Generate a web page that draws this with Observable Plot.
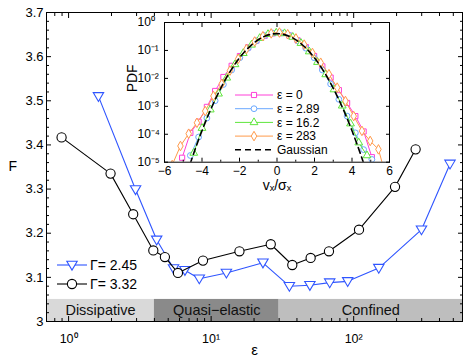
<!DOCTYPE html>
<html><head><meta charset="utf-8">
<script src="https://cdn.jsdelivr.net/npm/d3@7"></script>
<script src="https://cdn.jsdelivr.net/npm/@observablehq/plot@0.6"></script>
<style>
body{margin:0;background:#fff;}
#wrap{position:relative;width:469px;height:363px;font-family:"Liberation Sans",Arial,sans-serif;}
#wrap svg{position:absolute;overflow:visible;}
</style></head><body><div id="wrap"></div>
<script>
// ---------- main chart data ----------
const eps245 = [1.62, 2.95, 4.15, 5.45, 6.55, 8.26, 12.8, 23.1, 35.4, 49.3, 67.9, 90.8, 150, 299, 474];
const F245   = [3.510, 3.299, 3.185, 3.120, 3.116, 3.097, 3.110, 3.133, 3.080, 3.082, 3.088, 3.091, 3.121, 3.208, 3.357];
const eps332 = [0.893, 1.97, 2.84, 3.93, 4.74, 5.85, 8.77, 15.8, 26.2, 37.1, 49.9, 67.1, 109, 195, 272];
const F332   = [3.417, 3.335, 3.243, 3.161, 3.146, 3.110, 3.138, 3.159, 3.175, 3.128, 3.144, 3.159, 3.208, 3.305, 3.390];
const seriesNames = ["Γ= 2.45", "Γ= 3.32"];
const regimeNames = ["Dissipative", "Quasi\u2212elastic", "Confined"];
const regimeLo = [0.7, 4, 30];
const regimeHi = [4, 30, 580];
const regimeFill = ["#d9d9d9", "#8a8a8a", "#bebebe"];
const bandTop = 3.05;
const xTicksMain = [1, 10, 100];
const xTickLabelsMain = ["10\u2070", "10\u00b9", "10\u00b2"];
const xMinorMain = [0.8, 0.9, 2, 3, 4, 5, 6, 7, 8, 9, 20, 30, 40, 50, 60, 70, 80, 90, 200, 300, 400, 500];
const yTicksMain = [3, 3.1, 3.2, 3.3, 3.4, 3.5, 3.6, 3.7];
const yTickLabelsMain = ["3", "3.1", "3.2", "3.3", "3.4", "3.5", "3.6", "3.7"];

// ---------- inset data (PDF, log10 values) ----------
const insetNames = ["\u03b5 = 0", "\u03b5 = 2.89", "\u03b5 = 16.2", "\u03b5 = 283", "Gaussian"];
const vx_e0 = [-5.06,-4.62,-4.18,-3.74,-3.30,-2.86,-2.42,-1.98,-1.54,-1.10,-0.66,-0.22,0.22,0.66,1.10,1.54,1.98,2.42,2.86,3.30,3.74,4.18,4.62,5.06];
const lp_e0 = [-4.84,-3.95,-3.55,-3.02,-2.45,-1.95,-1.55,-1.20,-0.89,-0.65,-0.48,-0.39,-0.38,-0.47,-0.64,-0.88,-1.20,-1.57,-1.97,-2.42,-2.88,-3.35,-3.90,-4.82];
const vx_e289 = [-4.62,-4.18,-3.74,-3.30,-2.86,-2.42,-1.98,-1.54,-1.10,-0.66,-0.22,0.22,0.66,1.10,1.54,1.98,2.42,2.86,3.30,3.74,4.18,4.62,5.06];
const lp_e289 = [-4.76,-4.10,-3.42,-2.80,-2.22,-1.70,-1.26,-0.92,-0.66,-0.47,-0.38,-0.37,-0.46,-0.65,-0.92,-1.26,-1.70,-2.20,-2.75,-3.35,-3.95,-4.55,-4.90];
const vx_e162 = [-4.44,-4.00,-3.56,-3.12,-2.68,-2.24,-1.80,-1.36,-0.92,-0.48,-0.04,0.40,0.84,1.28,1.72,2.16,2.60,3.04,3.48,3.92,4.36,4.80];
const lp_e162 = [-4.67,-3.78,-3.12,-2.55,-1.98,-1.50,-1.10,-0.80,-0.56,-0.42,-0.37,-0.39,-0.52,-0.74,-1.04,-1.42,-1.86,-2.40,-2.98,-3.62,-4.30,-4.76];
const vx_e283 = [-5.59,-5.15,-4.71,-4.27,-3.83,-3.39,-2.95,-2.51,-2.07,-1.63,-1.19,-0.75,-0.31,0.13,0.57,1.01,1.45,1.89,2.33,2.77,3.21,3.65,4.09,4.53,4.97,5.41,5.85];
const lp_e283 = [-5.10,-4.42,-3.98,-3.59,-3.17,-2.63,-2.20,-1.72,-1.30,-0.95,-0.68,-0.49,-0.39,-0.36,-0.42,-0.57,-0.79,-1.09,-1.44,-1.85,-2.33,-2.81,-3.35,-3.88,-4.24,-4.54,-5.60];
const vx_gauss = [-4.8,-4.4,-4.0,-3.6,-3.2,-2.8,-2.4,-2.0,-1.6,-1.2,-0.8,-0.4,0,0.4,0.8,1.2,1.6,2.0,2.4,2.8,3.2,3.6,4.0,4.4,4.8];
const p_gauss = [3.961e-6,2.494e-5,1.338e-4,6.119e-4,2.384e-3,7.915e-3,0.02239,0.05399,0.1109,0.1942,0.2897,0.3683,0.3989,0.3683,0.2897,0.1942,0.1109,0.05399,0.02239,7.915e-3,2.384e-3,6.119e-4,1.338e-4,2.494e-5,3.961e-6];
const insetColors = ["#ff40d8", "#6aa8ff", "#5ee63c", "#ff9a4a", "#000000"];
const insetSymbols = ["square", "circle", "triangle", "diamond"];
const xTicksInset = [-6, -4, -2, 0, 2, 4, 6];
const xTickLabelsInset = ["\u22126", "\u22124", "\u22122", "0", "2", "4", "6"];
const xMinorInset = [-5, -3, -1, 1, 3, 5];
const yTicksInset = [1e-5, 1e-4, 1e-3, 1e-2, 1e-1, 1];
const yTickLabelsInset = ["10\u207b\u2075", "10\u207b\u2074", "10\u207b\u00b3", "10\u207b\u00b2", "10\u207b\u00b9", "10\u2070"];

const blue = "#2f55ff";
const FONT = "'Liberation Sans', Arial, sans-serif";

const triDown = {draw(ctx, size) {
  const r = Math.sqrt(size / Math.PI);
  ctx.moveTo(-r, -0.72 * r); ctx.lineTo(r, -0.72 * r); ctx.lineTo(0, 0.98 * r); ctx.closePath();
}};

const d245 = eps245.map((e, i) => ({e, F: F245[i]}));
const d332 = eps332.map((e, i) => ({e, F: F332[i]}));
const regimes = regimeNames.map((name, i) => ({name, lo: regimeLo[i], hi: regimeHi[i], fill: regimeFill[i]}));
const yMinorMain = d3.range(3.02, 3.7, 0.02).filter(v => Math.abs(v * 10 - Math.round(v * 10)) > 1e-6);

const wrap = document.getElementById("wrap");
const blank = () => "";

const main = Plot.plot({
  width: 469, height: 363,
  marginLeft: 46, marginRight: 7, marginTop: 12, marginBottom: 42,
  style: {fontFamily: FONT, fontSize: "12px", background: "transparent", color: "black"},
  x: {type: "log", domain: [0.7, 580], axis: null},
  y: {domain: [3, 3.7], axis: null},
  marks: [
    Plot.rect(regimes, {x1: "lo", x2: "hi", y1: 3, y2: bandTop, fill: "fill"}),
    Plot.text(regimes, {x: d => Math.sqrt(d.lo * d.hi), y: (3 + bandTop) / 2, text: "name", fontSize: 14.5, fill: "#111"}),
    Plot.line(d245, {x: "e", y: "F", stroke: blue, strokeWidth: 1.1}),
    Plot.dot(d245, {x: "e", y: "F", symbol: triDown, r: 5.2, stroke: blue, fill: "white", strokeWidth: 1.1}),
    Plot.line(d332, {x: "e", y: "F", stroke: "black", strokeWidth: 1.1}),
    Plot.dot(d332, {x: "e", y: "F", r: 4.6, stroke: "black", fill: "white", strokeWidth: 1.1}),
    Plot.frame({stroke: "black", strokeWidth: 1}),
    Plot.text(xTicksMain, {x: d => d, text: (d, i) => xTickLabelsMain[i], frameAnchor: "bottom", lineAnchor: "middle", dy: 17, fontSize: 12.5}),
    Plot.axisX({ticks: xTicksMain, tickSize: -5, tickFormat: blank, label: null}),
    Plot.axisX({ticks: xMinorMain, tickSize: -3, tickFormat: blank, label: null}),
    Plot.axisX({anchor: "top", ticks: xTicksMain, tickSize: -5, tickFormat: blank, label: null}),
    Plot.axisX({anchor: "top", ticks: xMinorMain, tickSize: -3, tickFormat: blank, label: null}),
    Plot.text(yTicksMain, {y: d => d, text: (d, i) => yTickLabelsMain[i], frameAnchor: "left", dx: -3, textAnchor: "end", fontSize: 13}),
    Plot.axisY({ticks: yTicksMain, tickSize: -5, tickFormat: blank, label: null}),
    Plot.axisY({ticks: yMinorMain, tickSize: -3, tickFormat: blank, label: null}),
    Plot.axisY({anchor: "right", ticks: yTicksMain, tickSize: -5, tickFormat: blank, label: null}),
    Plot.axisY({anchor: "right", ticks: yMinorMain, tickSize: -3, tickFormat: blank, label: null}),
    Plot.text(["F"], {frameAnchor: "left", dx: -38, fontSize: 14}),
    Plot.text(["\u03b5"], {frameAnchor: "bottom", lineAnchor: "middle", dy: 29, fontSize: 15})
  ]
});
main.style.left = "0px"; main.style.top = "0px";
wrap.appendChild(main);

// ---------- inset ----------
const mk = (xs, ls) => xs.map((x, i) => ({x, p: Math.pow(10, ls[i])}));
const insetSeries = [mk(vx_e0, lp_e0), mk(vx_e289, lp_e289), mk(vx_e162, lp_e162), mk(vx_e283, lp_e283)];
const gauss = vx_gauss.map((x, i) => ({x, p: p_gauss[i]}));

const insetMarks = [Plot.frame({fill: "white", stroke: "none"})];
insetSeries.forEach((s, k) => {
  insetMarks.push(Plot.line(s, {x: "x", y: "p", stroke: insetColors[k], strokeWidth: 1, clip: true}));
  insetMarks.push(Plot.dot(s, {x: "x", y: "p", symbol: insetSymbols[k], r: 2.9, stroke: insetColors[k], fill: "white", strokeWidth: 1, clip: true}));
});
insetMarks.push(Plot.line(gauss, {x: "x", y: "p", stroke: "black", strokeWidth: 1.6, strokeDasharray: "6,4", curve: "catmull-rom", clip: true}));
insetMarks.push(
  Plot.frame({stroke: "black", strokeWidth: 1}),
  Plot.text(xTicksInset, {x: d => d, text: (d, i) => xTickLabelsInset[i], frameAnchor: "bottom", lineAnchor: "middle", dy: 9, fontSize: 12}),
  Plot.axisX({ticks: xTicksInset, tickSize: -4, tickFormat: blank, label: null}),
  Plot.axisX({ticks: xMinorInset, tickSize: -2, tickFormat: blank, label: null}),
  Plot.axisX({anchor: "top", ticks: xTicksInset, tickSize: -4, tickFormat: blank, label: null}),
  Plot.axisX({anchor: "top", ticks: xMinorInset, tickSize: -2, tickFormat: blank, label: null}),
  Plot.axisY({ticks: yTicksInset, tickSize: -4, tickFormat: blank, label: null}),
  Plot.axisY({anchor: "right", ticks: yTicksInset, tickSize: -4, tickFormat: blank, label: null}),
  Plot.text(yTicksInset, {y: d => d, text: (d, i) => yTickLabelsInset[i], frameAnchor: "left", dx: -27, textAnchor: "start", fontSize: 12}),
  Plot.text(["PDF"], {frameAnchor: "left", dx: -32, rotate: -90, fontSize: 14}),
  Plot.text(["v\u2093/\u03c3\u2093"], {frameAnchor: "bottom", lineAnchor: "middle", dy: 23, fontSize: 14})
);

const inset = Plot.plot({
  width: 280, height: 190,
  marginLeft: 44, marginRight: 11, marginTop: 14, marginBottom: 36.3,
  style: {fontFamily: FONT, fontSize: "12px", background: "transparent", color: "black"},
  x: {domain: [-6, 6], axis: null},
  y: {type: "log", domain: [1e-5, 1], axis: null},
  marks: insetMarks
});
inset.style.left = "120px"; inset.style.top = "8px";
wrap.appendChild(inset);

// ---------- legends ----------
const leg = d3.create("svg").attr("width", 469).attr("height", 363)
  .style("left", "0px").style("top", "0px").style("font-family", FONT);
const mainLeg = [
  {name: seriesNames[0], color: blue, sym: triDown, size: Math.PI * 5.2 * 5.2},
  {name: seriesNames[1], color: "black", sym: d3.symbolCircle, size: Math.PI * 4.6 * 4.6}
];
mainLeg.forEach((d, i) => {
  const y = 265 + i * 19;
  const g = leg.append("g");
  g.append("line").attr("x1", 57).attr("x2", 87).attr("y1", y).attr("y2", y).attr("stroke", d.color).attr("stroke-width", 1.1);
  g.append("path").attr("d", d3.symbol(d.sym, d.size)()).attr("transform", `translate(72,${y})`)
    .attr("fill", "white").attr("stroke", d.color).attr("stroke-width", 1.1);
  g.append("text").attr("x", 90).attr("y", y).attr("dy", "0.36em").attr("font-size", 14).text(d.name);
});
const symMap = {square: d3.symbolSquare, circle: d3.symbolCircle, triangle: d3.symbolTriangle, diamond: d3.symbolDiamond};
insetNames.forEach((name, i) => {
  const y = 95 + i * 13.7;
  const g = leg.append("g");
  const line = g.append("line").attr("x1", 235).attr("x2", 273).attr("y1", y).attr("y2", y)
    .attr("stroke", insetColors[i]).attr("stroke-width", i === 4 ? 1.6 : 1);
  if (i === 4) line.attr("stroke-dasharray", "6,4");
  else g.append("path").attr("d", d3.symbol(symMap[insetSymbols[i]], Math.PI * 2.9 * 2.9)())
    .attr("transform", `translate(254,${y})`).attr("fill", "white").attr("stroke", insetColors[i]);
  g.append("text").attr("x", 277).attr("y", y).attr("dy", "0.36em").attr("font-size", 12).text(name);
});
wrap.appendChild(leg.node());
</script></body></html>
